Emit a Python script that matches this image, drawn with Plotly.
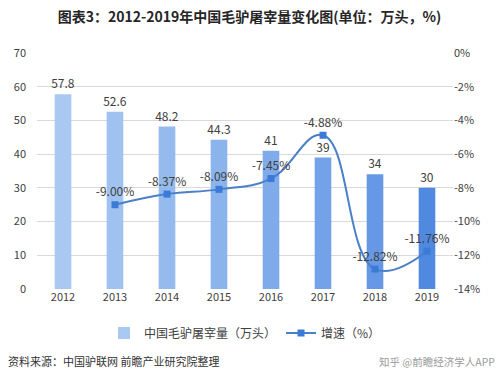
import plotly.graph_objects as go

years = ["2012", "2013", "2014", "2015", "2016", "2017", "2018", "2019"]
slaughter = [57.8, 52.6, 48.2, 44.3, 41, 39, 34, 30]
growth_years = ["2013", "2014", "2015", "2016", "2017", "2018", "2019"]
growth = [-9.00, -8.37, -8.09, -7.45, -4.88, -12.82, -11.76]
left_ticks = [0, 10, 20, 30, 40, 50, 60, 70]
right_ticks = [-14, -12, -10, -8, -6, -4, -2, 0]
right_labels = ["-14%", "-12%", "-10%", "-8%", "-6%", "-4%", "-2%", "0%"]

bar_colors = ["#a9c9f2", "#a0c2f0", "#95bbee", "#8bb3ec", "#80abea", "#74a2e8", "#6698e5", "#4f8ae0"]

W, H = 499, 382
ml, mr, mt, mb = 37, 46, 53, 93
pw, ph = W - ml - mr, H - mt - mb

font_fam = "Noto Sans CJK SC, Noto Sans, sans-serif"

fig = go.Figure()
fig.add_trace(go.Bar(
    x=years, y=slaughter, name="中国毛驴屠宰量（万头）",
    marker=dict(color=bar_colors, line=dict(width=0)),
    text=[f"{v:g}" for v in slaughter], textposition="outside",
    textfont=dict(size=12, color="#404040"), cliponaxis=False,
    constraintext="none", width=0.32,
))
fig.add_trace(go.Scatter(
    x=growth_years, y=growth, name="增速（%）", yaxis="y2",
    mode="lines+markers+text",
    line=dict(color="#4a7fc9", width=2, shape="spline", smoothing=1.2),
    marker=dict(symbol="square", size=7, color="#3b7ad6"),
    text=[f"{v:.2f}%" for v in growth], textposition="top center",
    textfont=dict(size=12, color="#404040"), cliponaxis=False,
))

fig.update_layout(
    width=W, height=H,
    margin=dict(l=ml, r=mr, t=mt, b=mb, autoexpand=False),
    paper_bgcolor="white", plot_bgcolor="white",
    font=dict(family=font_fam, size=12, color="#404040"),
    title=dict(text="<b>图表3：2012-2019年中国毛驴屠宰量变化图(单位：万头，%)</b>",
               x=0.5, xanchor="center", y=1 - 17 / H, yanchor="middle",
               font=dict(size=14, color="#262626")),
    showlegend=True,
    legend=dict(orientation="h", x=0.5, xanchor="center",
                yref="container", y=1 - 333 / H, yanchor="middle",
                font=dict(size=12, color="#404040"), itemwidth=30,
                bgcolor="rgba(0,0,0,0)"),
    xaxis=dict(type="category", showgrid=False, showline=False, ticks="",
               automargin=False, tickfont=dict(size=11, color="#404040")),
    yaxis=dict(range=[0, 70], tickvals=left_ticks, showgrid=True,
               gridcolor="#d9d9d9", gridwidth=1, zeroline=False, showline=False,
               automargin=False, ticks="", tickfont=dict(size=11, color="#404040"),
               ticklabelstandoff=10),
    yaxis2=dict(range=[-14, 0], overlaying="y", side="right",
                tickvals=right_ticks, ticktext=right_labels, showgrid=False,
                zeroline=False, showline=False, ticks="", automargin=False,
                tickfont=dict(size=11, color="#404040")),
)

fig.add_annotation(text="资料来源：中国驴联网 前瞻产业研究院整理",
                   xref="paper", yref="paper", x=(6 - ml) / pw, y=(mt + ph - 361) / ph,
                   xanchor="left", yanchor="middle", showarrow=False,
                   font=dict(size=11, color="#333333"))
fig.add_annotation(text="知乎 @前瞻经济学人APP",
                   xref="paper", yref="paper", x=(497 - ml) / pw, y=(mt + ph - 361) / ph,
                   xanchor="right", yanchor="middle", showarrow=False,
                   font=dict(size=10.5, color="#9a9a9a"))

fig.write_html("out.html", config={"displayModeBar": False},
               post_script="document.body.style.margin='0';document.body.style.overflow='hidden';")
